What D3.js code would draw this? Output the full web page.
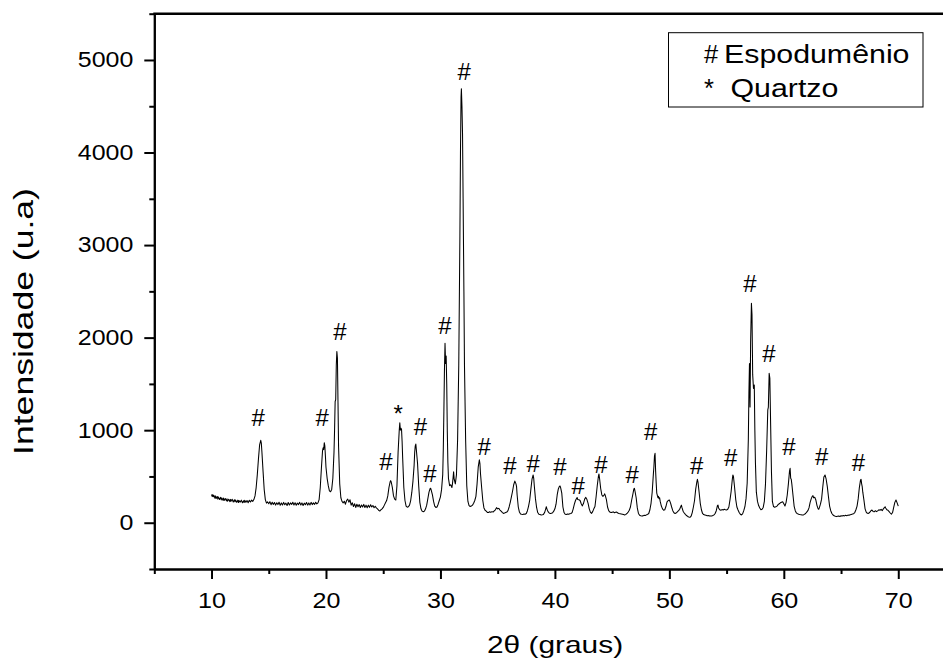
<!DOCTYPE html>
<html>
<head>
<meta charset="utf-8">
<script src="https://cdn.jsdelivr.net/npm/d3@7"></script>
<style>
  html, body { margin: 0; padding: 0; background: #fff; }
  svg { display: block; font-family: "Liberation Sans", Arial, sans-serif; }
</style>
</head>
<body>
<svg id="chart" width="943" height="666"></svg>
<script>
// ---------- data ----------
const twoTheta = [
10.0,10.05,10.1,10.15,10.2,10.3,10.35,10.4,10.5,10.55,10.6,10.7,10.8,10.85,10.9,11.0,11.05,11.1,11.2,11.3,11.35,11.4,11.5,11.6,11.65,11.7,11.8,11.9,12.0,12.05,12.1,12.2,12.3,12.35,12.4,12.5,12.6,12.7,12.8,12.85,12.9,13.0,13.1,13.2,13.3,13.4,13.5,13.6,13.7,13.8,13.9,14.0,14.1,14.2,14.3,14.35,14.4,14.5,14.6,14.7,14.8,14.9,
15.0,15.1,15.2,15.3,15.4,15.5,15.6,15.7,15.8,15.9,16.0,16.1,16.2,16.3,16.4,16.5,16.6,16.7,16.8,16.9,17.0,17.1,17.2,17.3,17.4,17.5,17.6,17.7,17.8,17.9,18.0,18.1,18.2,18.3,18.4,18.5,18.6,18.7,18.8,18.9,19.0,19.1,19.2,19.3,19.4,19.5,19.6,19.7,19.75,19.8,19.85,19.9,19.95,
20.0,20.1,20.2,20.3,20.4,20.5,20.6,20.7,20.75,20.8,20.85,20.9,20.95,21.0,21.05,21.1,21.2,21.3,21.4,21.5,21.6,21.7,21.8,21.9,22.0,22.1,22.2,22.3,22.4,22.5,22.6,22.7,22.8,22.9,23.0,23.1,23.2,23.3,23.4,23.5,23.6,23.7,23.8,23.9,24.0,24.1,24.2,24.3,24.4,24.5,24.6,24.7,24.8,24.9,
25.0,25.1,25.2,25.3,25.4,25.5,25.6,25.65,25.7,25.8,25.9,26.0,26.1,26.2,26.3,26.4,26.45,26.5,26.55,26.6,26.65,26.7,26.8,26.9,27.0,27.1,27.2,27.3,27.4,27.5,27.6,27.7,27.75,27.8,27.85,27.9,28.0,28.1,28.2,28.3,28.4,28.5,28.6,28.7,28.8,28.9,29.0,29.1,29.15,29.2,29.3,29.4,29.5,29.6,29.7,29.8,29.9,
30.0,30.1,30.2,30.25,30.3,30.35,30.4,30.45,30.5,30.55,30.6,30.65,30.7,30.8,30.9,31.0,31.05,31.1,31.15,31.2,31.3,31.4,31.5,31.6,31.7,31.75,31.8,31.83,31.88,31.93,31.98,32.05,32.1,32.2,32.3,32.4,32.5,32.6,32.7,32.8,32.9,33.0,33.1,33.2,33.3,33.4,33.45,33.5,33.6,33.7,33.8,33.9,34.0,34.1,34.2,34.3,34.4,34.5,34.6,34.7,34.8,34.9,
35.0,35.1,35.2,35.3,35.4,35.5,35.6,35.7,35.8,35.9,36.0,36.1,36.2,36.3,36.4,36.5,36.6,36.65,36.7,36.8,36.9,37.0,37.1,37.2,37.3,37.4,37.5,37.6,37.7,37.8,37.9,38.0,38.1,38.15,38.2,38.3,38.4,38.5,38.6,38.7,38.8,38.9,39.0,39.1,39.2,39.25,39.3,39.4,39.5,39.6,39.7,39.8,39.9,
40.0,40.1,40.2,40.3,40.4,40.45,40.5,40.6,40.7,40.8,40.9,41.0,41.1,41.2,41.3,41.4,41.5,41.6,41.7,41.8,41.9,41.95,42.0,42.1,42.2,42.3,42.4,42.5,42.6,42.7,42.8,42.9,43.0,43.1,43.2,43.3,43.4,43.5,43.6,43.7,43.8,43.85,43.9,44.0,44.1,44.2,44.3,44.35,44.4,44.5,44.6,44.7,44.8,44.9,
45.0,45.1,45.2,45.3,45.4,45.5,45.6,45.7,45.8,45.9,46.0,46.1,46.2,46.3,46.4,46.5,46.6,46.7,46.8,46.9,46.95,47.0,47.1,47.2,47.3,47.4,47.5,47.6,47.7,47.8,47.9,48.0,48.1,48.2,48.3,48.4,48.5,48.6,48.65,48.7,48.75,48.8,48.85,48.9,49.0,49.05,49.1,49.15,49.2,49.3,49.4,49.5,49.6,49.7,49.8,49.9,
50.0,50.1,50.2,50.3,50.4,50.5,50.6,50.7,50.8,50.9,51.0,51.05,51.1,51.2,51.3,51.4,51.5,51.6,51.7,51.8,51.9,52.0,52.1,52.2,52.3,52.4,52.45,52.5,52.6,52.7,52.8,52.9,53.0,53.1,53.2,53.3,53.4,53.5,53.6,53.7,53.8,53.9,54.0,54.1,54.2,54.25,54.3,54.4,54.5,54.6,54.7,54.8,54.9,
55.0,55.1,55.2,55.3,55.4,55.5,55.55,55.6,55.7,55.8,55.9,56.0,56.1,56.2,56.3,56.4,56.5,56.6,56.7,56.8,56.9,56.95,57.0,57.05,57.1,57.17,57.22,57.28,57.35,57.42,57.47,57.52,57.6,57.7,57.8,57.9,58.0,58.1,58.2,58.3,58.4,58.5,58.6,58.65,58.72,58.78,58.85,58.92,59.0,59.1,59.2,59.3,59.4,59.5,59.6,59.7,59.8,59.9,
60.0,60.1,60.2,60.3,60.4,60.5,60.55,60.6,60.65,60.7,60.8,60.9,61.0,61.1,61.2,61.3,61.4,61.5,61.6,61.7,61.8,61.9,62.0,62.1,62.2,62.3,62.4,62.5,62.55,62.6,62.7,62.8,62.9,63.0,63.05,63.1,63.2,63.3,63.4,63.5,63.6,63.7,63.8,63.9,64.0,64.1,64.2,64.3,64.4,64.5,64.6,64.7,64.8,64.9,
65.0,65.1,65.2,65.3,65.4,65.5,65.6,65.7,65.8,65.9,66.0,66.1,66.2,66.3,66.4,66.5,66.6,66.7,66.75,66.8,66.85,66.9,67.0,67.1,67.2,67.3,67.4,67.5,67.6,67.7,67.8,67.9,68.0,68.1,68.2,68.3,68.4,68.5,68.6,68.7,68.8,68.85,68.9,69.0,69.1,69.2,69.3,69.4,69.5,69.6,69.7,69.8,69.9,70.0
];
const intensity = [
305,285,302,280,298,265,290,262,284,255,278,252,274,246,268,244,266,240,262,236,258,232,254,228,252,232,254,224,248,226,246,220,244,218,240,222,244,216,238,218,242,220,240,216,242,224,244,230,250,290,380,520,690,840,890,860,770,560,360,250,212,225,
205,228,195,222,198,218,190,216,196,222,188,214,192,220,194,212,186,218,192,214,198,222,192,216,188,212,196,220,192,214,186,212,194,218,190,214,192,220,196,214,198,222,204,214,250,380,590,780,810,790,865,830,720,
600,480,400,345,335,360,480,760,1000,1310,1330,1700,1850,1780,1300,820,420,270,230,215,232,200,240,255,222,248,190,215,175,205,165,200,172,196,164,192,170,198,164,190,162,190,166,194,170,186,162,178,160,150,135,126,140,150,
165,190,215,240,290,380,440,455,440,380,290,255,245,400,760,1000,1080,1000,1020,1010,880,700,380,240,180,168,172,190,240,330,450,620,760,830,850,780,640,400,220,150,125,118,125,150,190,260,330,370,372,350,300,230,180,165,170,200,240,
280,360,520,800,1200,1650,1940,1720,1800,1500,980,650,480,400,410,380,420,480,550,470,420,520,900,1700,3100,4000,4600,4690,4500,4200,3500,2500,1700,900,400,230,185,175,180,190,210,240,285,420,600,680,640,530,380,240,160,135,125,112,110,118,112,120,115,128,140,163,
150,155,137,125,112,101,105,110,115,130,170,220,280,340,410,450,420,390,300,170,115,95,92,90,95,92,100,130,180,245,360,470,516,480,400,260,165,110,92,88,84,86,90,110,150,173,150,120,105,100,102,108,125,
150,200,300,365,395,397,380,320,170,110,92,90,95,92,98,100,110,150,200,240,265,272,250,248,240,205,182,210,255,274,250,210,150,115,101,120,150,175,280,400,500,527,480,370,300,285,300,312,295,250,170,130,115,110,
112,118,108,112,115,105,100,98,95,92,88,84,90,100,115,135,170,240,300,365,372,340,270,160,100,80,75,72,74,80,78,85,90,100,140,210,330,520,605,720,750,560,430,320,270,285,260,270,230,180,150,135,140,175,225,240,
245,215,170,130,108,100,105,118,130,145,175,190,165,125,105,90,78,68,62,58,70,110,170,240,360,440,469,440,330,210,140,100,88,84,80,76,78,74,72,73,78,85,100,130,185,191,160,140,135,142,138,145,140,
138,145,170,250,340,470,516,500,380,250,170,137,110,92,84,95,130,173,260,430,900,1400,1720,1250,1950,2370,2250,1600,1450,1489,1000,650,330,230,185,160,140,145,165,230,420,780,1220,1250,1615,1560,1050,550,230,175,168,172,180,195,205,215,222,227,
205,180,220,300,420,560,588,480,470,420,300,180,130,105,98,92,88,86,84,84,90,100,115,130,160,220,260,290,292,270,275,245,185,150,145,160,200,255,380,495,516,470,390,280,180,130,100,84,75,70,66,70,72,68,
75,72,78,74,80,76,82,80,86,90,94,98,110,140,180,260,380,460,469,420,390,330,245,150,115,102,101,110,128,137,122,118,130,120,128,140,135,145,130,150,165,173,160,140,135,120,105,92,110,165,220,245,215,180
];

const xTicks = [10, 20, 30, 40, 50, 60, 70];
const xMinorTicks = [5, 15, 25, 35, 45, 55, 65];
const yTicks = [0, 1000, 2000, 3000, 4000, 5000];
const yMinorTicks = [-500, 500, 1500, 2500, 3500, 4500, 5500];

// peak markers: position (baseline) in data units
const markerX = [14.07, 19.67, 21.21, 25.23, 26.31, 28.26, 29.08, 30.39, 32.07, 33.82, 36.07, 38.1, 40.44, 42.04, 44.02, 46.76, 48.36, 52.38, 55.36, 57.04, 58.7, 60.45, 63.31, 66.51];
const markerY = [1046, 1046, 1979, 566, 1085, 944, 441, 2043, 4781, 728, 531, 549, 512, 314, 538, 433, 898, 531, 614, 2494, 1738, 736, 620, 555];
const markerSym = ["#", "#", "#", "#", "*", "#", "#", "#", "#", "#", "#", "#", "#", "#", "#", "#", "#", "#", "#", "#", "#", "#", "#", "#"];

const legendSymbols = ["#", "*"];
const legendLabels = ["Espodumênio", "Quartzo"];

const xTitle = "2θ (graus)";
const yTitle = "Intensidade (u.a)";

// ---------- drawing ----------
const svg = d3.select("#chart");
const x = d3.scaleLinear().domain([5, 75]).range([154.3, 955.5]);
const y = d3.scaleLinear().domain([-500, 5500]).range([569, 13.7]);

// data line
const pts = twoTheta.map((t, i) => [t, intensity[i]]);
svg.append("path")
  .datum(pts)
  .attr("fill", "none")
  .attr("stroke", "#000")
  .attr("stroke-width", 1.05)
  .attr("stroke-linejoin", "round")
  .attr("d", d3.line().x(d => x(d[0])).y(d => y(d[1])));

// axes
const sxX = 1.14, sxY = 1.16;
const gx = svg.append("g").attr("transform", `translate(0,${y(-500)})`)
  .call(d3.axisBottom(x).tickValues(xTicks).tickFormat(d3.format("d")).tickSize(10).tickPadding(13).tickSizeOuter(0));
gx.selectAll("text").attr("font-size", 22).attr("font-family", "Liberation Sans, Arial, sans-serif")
  .attr("fill", "#000").attr("transform", `scale(${sxX},1)`);
const gxm = svg.append("g").attr("transform", `translate(0,${y(-500)})`)
  .call(d3.axisBottom(x).tickValues(xMinorTicks).tickSize(5).tickFormat("").tickSizeOuter(0));

const gy = svg.append("g").attr("transform", `translate(${x(5)},0)`)
  .call(d3.axisLeft(y).tickValues(yTicks).tickFormat(d3.format("d")).tickSize(10).tickPadding(11).tickSizeOuter(0));
gy.selectAll("text").attr("font-size", 21.5).attr("font-family", "Liberation Sans, Arial, sans-serif")
  .attr("fill", "#000").attr("x", -21 / sxY).attr("transform", `scale(${sxY},1)`);
const gym = svg.append("g").attr("transform", `translate(${x(5)},0)`)
  .call(d3.axisLeft(y).tickValues(yMinorTicks).tickSize(5).tickFormat("").tickSizeOuter(0));

[gx, gxm, gy, gym].forEach(g => {
  g.selectAll("line").attr("stroke", "#000").attr("stroke-width", 2);
  g.select(".domain").attr("stroke", "#000").attr("stroke-width", 2);
});

// top frame line
svg.append("line")
  .attr("x1", x(5) - 1).attr("x2", x(75)).attr("y1", y(5500)).attr("y2", y(5500))
  .attr("stroke", "#000").attr("stroke-width", 2.4);

// peak markers
svg.append("g").selectAll("text").data(markerSym).join("text")
  .attr("x", (d, i) => x(markerX[i]))
  .attr("y", (d, i) => y(markerY[i]))
  .attr("text-anchor", "middle")
  .attr("font-size", 24)
  .attr("fill", "#000")
  .text(d => d);

// axis titles
svg.append("text")
  .attr("transform", `translate(555,653) scale(1.3,1)`)
  .attr("text-anchor", "middle")
  .attr("font-size", 23)
  .attr("fill", "#000")
  .text(xTitle);

svg.append("text")
  .attr("transform", `translate(33,321.5) rotate(-90) scale(1.27,1)`)
  .attr("text-anchor", "middle")
  .attr("font-size", 28)
  .attr("fill", "#000")
  .text(yTitle);

// legend
const lg = svg.append("g");
lg.append("rect")
  .attr("x", 668.5).attr("y", 32.7).attr("width", 254.5).attr("height", 74.3)
  .attr("fill", "#fff").attr("stroke", "#000").attr("stroke-width", 1);
const rowBase = [63.3, 96.7];
const labelStart = [724, 730.5];
legendSymbols.forEach((s, i) => {
  lg.append("text")
    .attr("x", 704).attr("y", rowBase[i])
    .attr("font-size", 25.5).attr("fill", "#000").text(s);
  lg.append("text")
    .attr("transform", `translate(${labelStart[i]},${rowBase[i]}) scale(1.19,1)`)
    .attr("font-size", 25.5).attr("fill", "#000").text(legendLabels[i]);
});
</script>
</body>
</html>
